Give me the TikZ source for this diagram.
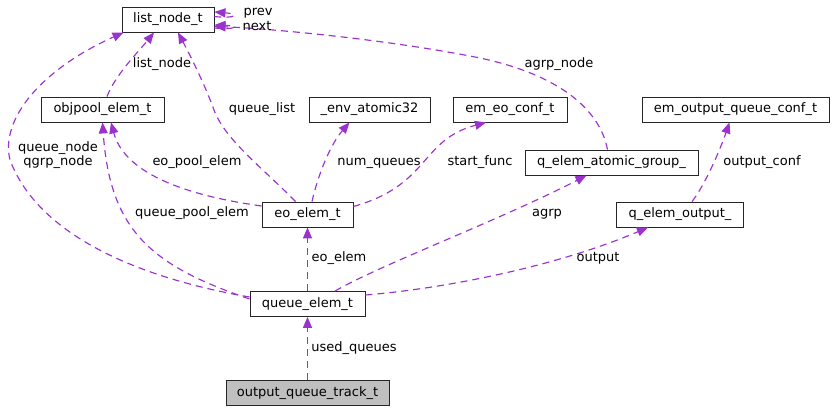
\documentclass[tikz,border=0pt]{standalone}
\usepackage{fontspec}
\setmainfont{DejaVu Sans}
\usetikzlibrary{arrows.meta,calc}
\definecolor{edgec}{HTML}{9A32CD}
\definecolor{boxfill}{HTML}{BFBFBF}
\begin{document}
\begin{tikzpicture}[x=1pt,y=-1pt,
  cls/.style={draw=black!85,line width=0.9pt,minimum height=25pt,inner sep=0pt,font=\fontsize{13}{15}\selectfont,text height=9.5pt,text depth=3pt},
  rel/.style={draw=edgec,line width=1.15pt,dash pattern=on 7pt off 5pt,-{Triangle[length=11pt,width=9pt,fill=edgec]}},
  straightrel/.style={rel,line width=1.6pt},
  lbl/.style={font=\fontsize{13}{14}\selectfont,inner sep=0pt,text height=9.5pt,text depth=3pt,align=center}]
\useasboundingbox (0,0) rectangle (835,412);

% classes
\node[cls,minimum width=92pt]  (listnode)  at (168,19.5)  {list\_node\_t};
\node[cls,minimum width=123pt] (objpool)   at (102.5,109.5) {objpool\_elem\_t};
\node[cls,minimum width=121pt] (envatomic) at (369.5,109.5) {\_env\_atomic32};
\node[cls,minimum width=114pt] (emeoconf)  at (510,109.5) {em\_eo\_conf\_t};
\node[cls,minimum width=187pt] (emoutconf) at (735.5,109.5) {em\_output\_queue\_conf\_t};
\node[cls,minimum width=173pt] (qatomic)   at (611.5,162.5) {q\_elem\_atomic\_group\_};
\node[cls,minimum width=91pt]  (eo)        at (307.5,214.5) {eo\_elem\_t};
\node[cls,minimum width=127pt] (qoutput)   at (680,214.5) {q\_elem\_output\_};
\node[cls,minimum width=115pt] (queue)     at (307.5,304) {queue\_elem\_t};
\node[cls,minimum width=163pt,fill=boxfill] (track) at (307.5,393) {output\_queue\_track\_t};

% relations
\draw[rel] ($(objpool.north)+(4.5,0)$) .. controls (115,75) and (140,50) .. ($(listnode.south)+(-14,0)$);
\draw[rel] ($(eo.north)+(-12,0)$) .. controls (265,170) and (225,140) .. (214,110) .. controls (205,85) and (190,55) .. ($(listnode.south)+(10,0)$);
\draw[rel] ($(queue.west)+(0,-7)$) .. controls (150,280) and (40,240) .. (10,160) .. controls (0,120) and (40,70) .. ($(listnode.south west)+(2,0)$);
\draw[rel] ($(listnode.east)+(0,-3)$) .. controls (236,19) and (240,14) .. ($(listnode.east)+(0,-7.5)$);
\draw[rel] ($(listnode.east)+(0,8.5)$) .. controls (236,30) and (240,26) .. ($(listnode.east)+(0,5.5)$);
\draw[rel] ($(qatomic.north)+(-4,0)$) .. controls (600,110) and (560,75) .. (480,58) .. controls (380,38) and (260,28) .. ($(listnode.east)+(0,7)$);
\draw[rel] ($(eo.west)+(0,-8.5)$) .. controls (190,196) and (125,175) .. ($(objpool.south)+(8.5,0)$);
\draw[rel] ($(queue.west)+(0,-5)$) .. controls (150,265) and (110,230) .. (objpool.south);
\draw[rel] ($(eo.north)+(4.5,0)$) .. controls (318,175) and (330,145) .. ($(envatomic.south)+(-20,0)$);
\draw[rel] ($(eo.east)+(0,-8)$) .. controls (430,185) and (420,140) .. ($(emeoconf.south)+(-24,0)$);
\draw[straightrel] (queue.north) -- (eo.south);
\draw[rel] ($(queue.north)+(27.5,0)$) .. controls (380,265) and (500,220) .. ($(qatomic.south)+(-25,0)$);
\draw[rel] ($(queue.east)+(0,-9)$) .. controls (450,288) and (560,265) .. ($(qoutput.south)+(-32,0)$);
\draw[rel] ($(qoutput.north)+(12,0)$) .. controls (705,185) and (720,150) .. ($(emoutconf.south)+(-6,0)$);
\draw[straightrel] (track.north) -- (queue.south);

% labels
\node[lbl] (llistnode) at (162,64) {list\_node};
\node[lbl] (lqueuelist) at (262,109) {queue\_list};
\node[lbl] (lqueuenode) at (58,162) {queue\_node\\qgrp\_node};
\node[lbl] (lprev) at (258,12) {prev};
\node[lbl] (lnext) at (257,27) {next};
\node[lbl] (lagrpnode) at (559,64) {agrp\_node};
\node[lbl] (leopool) at (197,162) {eo\_pool\_elem};
\node[lbl] (lqpool) at (192,213) {queue\_pool\_elem};
\node[lbl] (lnumq) at (379,162) {num\_queues};
\node[lbl] (lstart) at (480,162) {start\_func};
\node[lbl] (leoelem) at (339,258) {eo\_elem};
\node[lbl] (lagrp) at (547,213) {agrp};
\node[lbl] (loutput) at (598,258) {output};
\node[lbl] (loutconf) at (762,162) {output\_conf};
\node[lbl] (lused) at (354,348) {used\_queues};
\end{tikzpicture}
\end{document}
